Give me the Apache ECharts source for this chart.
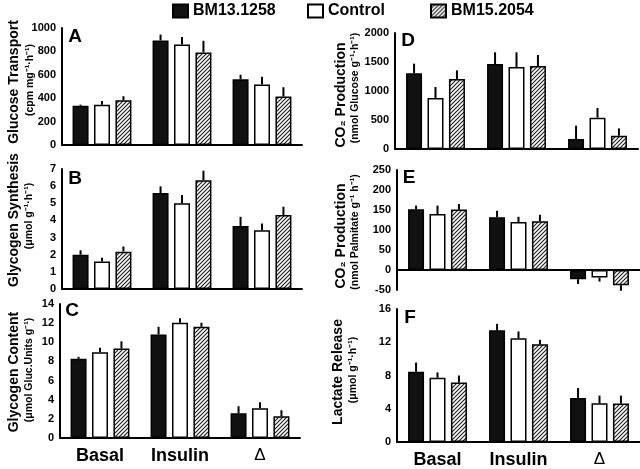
<!DOCTYPE html>
<html>
<head>
<meta charset="utf-8">
<script src="https://cdn.jsdelivr.net/npm/echarts@6/dist/echarts.min.js"></script>
<style>html,body{margin:0;padding:0;background:#fff}#c{width:640px;height:469px}</style>
</head>
<body>
<div id="c"></div>
<script>
var categories = ['Basal', 'Insulin', 'Δ'];
var seriesNames = ['BM13.1258', 'Control', 'BM15.2054'];

// Panel A: Glucose transport (cpm mg-1 h-1)
var aValues = [[335, 894, 563], [345, 860, 517], [383, 791, 414]];
var aErrors = [[10, 50, 37], [32, 63, 66], [34, 100, 80]];
// Panel B: Glycogen synthesis (umol g-1 h-1)
var bValues = [[2.0, 5.6, 3.68], [1.6, 5.0, 3.43], [2.18, 6.35, 4.31]];
var bErrors = [[0.26, 0.39, 0.53], [0.23, 0.48, 0.39], [0.3, 0.55, 0.49]];
// Panel C: Glycogen content
var cValues = [[8.27, 10.82, 2.58], [8.97, 12.04, 3.1], [9.35, 11.62, 2.27]];
var cErrors = [[0.21, 0.8, 0.74], [0.45, 0.46, 0.63], [0.75, 0.42, 0.63]];
// Panel D: CO2 production from glucose
var dValues = [[1305, 1466, 172], [879, 1414, 540], [1207, 1431, 230]];
var dErrors = [[166, 201, 230], [190, 253, 167], [149, 190, 126]];
// Panel E: CO2 production from palmitate
var eValues = [[152, 132, -23], [140, 120, -19], [151, 122, -38]];
var eErrors = [[9, 16, 12], [21, 13, 10], [14, 16, 14]];
// Panel F: Lactate release
var fValues = [[8.45, 13.43, 5.3], [7.73, 12.47, 4.66], [7.17, 11.75, 4.62]];
var fErrors = [[1.11, 0.79, 1.2], [0.64, 0.83, 0.92], [0.83, 0.55, 0.96]];

var panels = [
  {letter: 'A', values: aValues, errors: aErrors, min: 0, max: 1000, interval: 200,
   grid: {left: 62, top: 28, width: 240, height: 117}, showCat: false,
   title: 'Glucose Transport', sub: '(cpm mg⁻¹·h⁻¹)', tx: 14, ty: 82, sx: 30, sy: 80, lx: 75, ly: 37},
  {letter: 'B', values: bValues, errors: bErrors, min: 0, max: 7, interval: 1,
   grid: {left: 62, top: 169, width: 240, height: 120}, showCat: false,
   title: 'Glycogen Synthesis', sub: '(μmol g⁻¹·h⁻¹)', tx: 14, ty: 220, sx: 29, sy: 216, lx: 75, ly: 179},
  {letter: 'C', values: cValues, errors: cErrors, min: 0, max: 14, interval: 2,
   grid: {left: 60, top: 304, width: 240, height: 134}, showCat: true,
   title: 'Glycogen Content', sub: '(μmol Gluc.Units g⁻¹)', tx: 14, ty: 372, sx: 29, sy: 370, lx: 72, ly: 311},
  {letter: 'D', values: dValues, errors: dErrors, min: 0, max: 2000, interval: 500,
   grid: {left: 395, top: 33, width: 243, height: 116}, showCat: false,
   title: 'CO₂ Production', sub: '(nmol Glucose g⁻¹·h⁻¹)', tx: 341, ty: 95, sx: 355, sy: 88, lx: 408, ly: 41},
  {letter: 'E', values: eValues, errors: eErrors, min: -50, max: 250, interval: 50,
   grid: {left: 397, top: 170, width: 243, height: 120}, showCat: false,
   title: 'CO₂ Production', sub: '(nmol Palmitate g⁻¹ h⁻¹)', tx: 341, ty: 236, sx: 355, sy: 232, lx: 409, ly: 178},
  {letter: 'F', values: fValues, errors: fErrors, min: 0, max: 16, interval: 4,
   grid: {left: 397, top: 309, width: 243, height: 134}, showCat: true,
   title: 'Lactate Release', sub: '(μmol g⁻¹·h⁻¹)', tx: 338, ty: 372, sx: 353, sy: 370, lx: 410, ly: 318}
];

var FONT = '"Liberation Sans", Arial, Helvetica, sans-serif';
var BAR_W = 16, BAR_GAP = 0.34;

function hatchCanvas() {
  var c = document.createElement('canvas');
  c.width = 4; c.height = 4;
  var g = c.getContext('2d');
  g.fillStyle = '#fff'; g.fillRect(0, 0, 4, 4);
  g.strokeStyle = '#222'; g.lineWidth = 1.2;
  g.beginPath();
  g.moveTo(-1, 5); g.lineTo(5, -1);
  g.moveTo(-1, 1); g.lineTo(1, -1);
  g.moveTo(3, 5); g.lineTo(5, 3);
  g.stroke();
  return c;
}
var fills = ['#111', '#fff', {image: hatchCanvas(), repeat: 'repeat'}];

var grids = [], xAxes = [], yAxes = [], series = [], graphics = [];
panels.forEach(function (p, pi) {
  grids.push(p.grid);
  xAxes.push({
    type: 'category', data: categories, gridIndex: pi,
    axisLine: {show: true, onZero: true, lineStyle: {color: '#000', width: 2}},
    axisTick: {show: false},
    axisLabel: {
      show: p.showCat, margin: 9, color: '#000',
      formatter: function (v) { return v === 'Δ' ? '{d|Δ}' : '{b|' + v + '}'; },
      rich: {
        b: {fontFamily: FONT, fontWeight: 'bold', fontSize: 18, color: '#000'},
        d: {fontFamily: FONT, fontWeight: 'normal', fontSize: 17, color: '#000'}
      }
    }
  });
  yAxes.push({
    type: 'value', gridIndex: pi, min: p.min, max: p.max, interval: p.interval,
    axisLine: {show: true, lineStyle: {color: '#000', width: 2}},
    axisTick: {show: false},
    splitLine: {show: false},
    axisLabel: {margin: 6, color: '#000', fontFamily: FONT, fontWeight: 'bold', fontSize: 11,
      formatter: function (v) { return String(v); }}
  });
  seriesNames.forEach(function (name, k) {
    series.push({
      type: 'bar', name: name, xAxisIndex: pi, yAxisIndex: pi,
      data: p.values[k], barWidth: BAR_W, barGap: (BAR_GAP * 100) + '%',
      itemStyle: {color: fills[k], borderColor: '#000', borderWidth: 1.5},
      emphasis: {disabled: true}, animation: false
    });
  });
  seriesNames.forEach(function (name, k) {
    var d = p.values[k].map(function (v, i) { return [i, v, p.errors[k][i]]; });
    series.push({
      type: 'custom', name: name, xAxisIndex: pi, yAxisIndex: pi, data: d,
      animation: false, silent: true, z: 3,
      renderItem: function (params, api) {
        var v = api.value(1), e = api.value(2);
        var s = v < 0 ? -1 : 1;
        var p0 = api.coord([api.value(0), v]);
        var p1 = api.coord([api.value(0), v + s * e]);
        var off = (k - 1) * BAR_W * (1 + BAR_GAP);
        return {type: 'line', shape: {x1: p0[0] + off, y1: p0[1], x2: p1[0] + off, y2: p1[1]},
                style: {stroke: '#000', lineWidth: 2}};
      }
    });
  });
  graphics.push({type: 'text', x: p.tx, y: p.ty, rotation: Math.PI / 2,
    style: {text: p.title, fill: '#000', font: 'bold 14px ' + FONT, textAlign: 'center', textVerticalAlign: 'middle'}});
  graphics.push({type: 'text', x: p.sx, y: p.sy, rotation: Math.PI / 2,
    style: {text: p.sub, fill: '#000', font: 'bold 10.5px ' + FONT, textAlign: 'center', textVerticalAlign: 'middle'}});
  graphics.push({type: 'text', x: p.lx, y: p.ly,
    style: {text: p.letter, fill: '#000', font: 'bold 19px ' + FONT, textAlign: 'center', textVerticalAlign: 'middle'}});
});

function legendAt(name, left) {
  return {data: [{name: name, icon: 'rect'}], left: left, top: 3, padding: 0, itemWidth: 15, itemHeight: 13,
    selectedMode: false, textStyle: {fontFamily: FONT, fontWeight: 'bold', fontSize: 16, color: '#000'}};
}

var chart = echarts.init(document.getElementById('c'), null, {renderer: 'canvas'});
chart.setOption({
  backgroundColor: '#fff',
  animation: false,
  legend: [legendAt(seriesNames[0], 172), legendAt(seriesNames[1], 307), legendAt(seriesNames[2], 430)],
  grid: grids, xAxis: xAxes, yAxis: yAxes, series: series, graphic: graphics
});
</script>
</body>
</html>
